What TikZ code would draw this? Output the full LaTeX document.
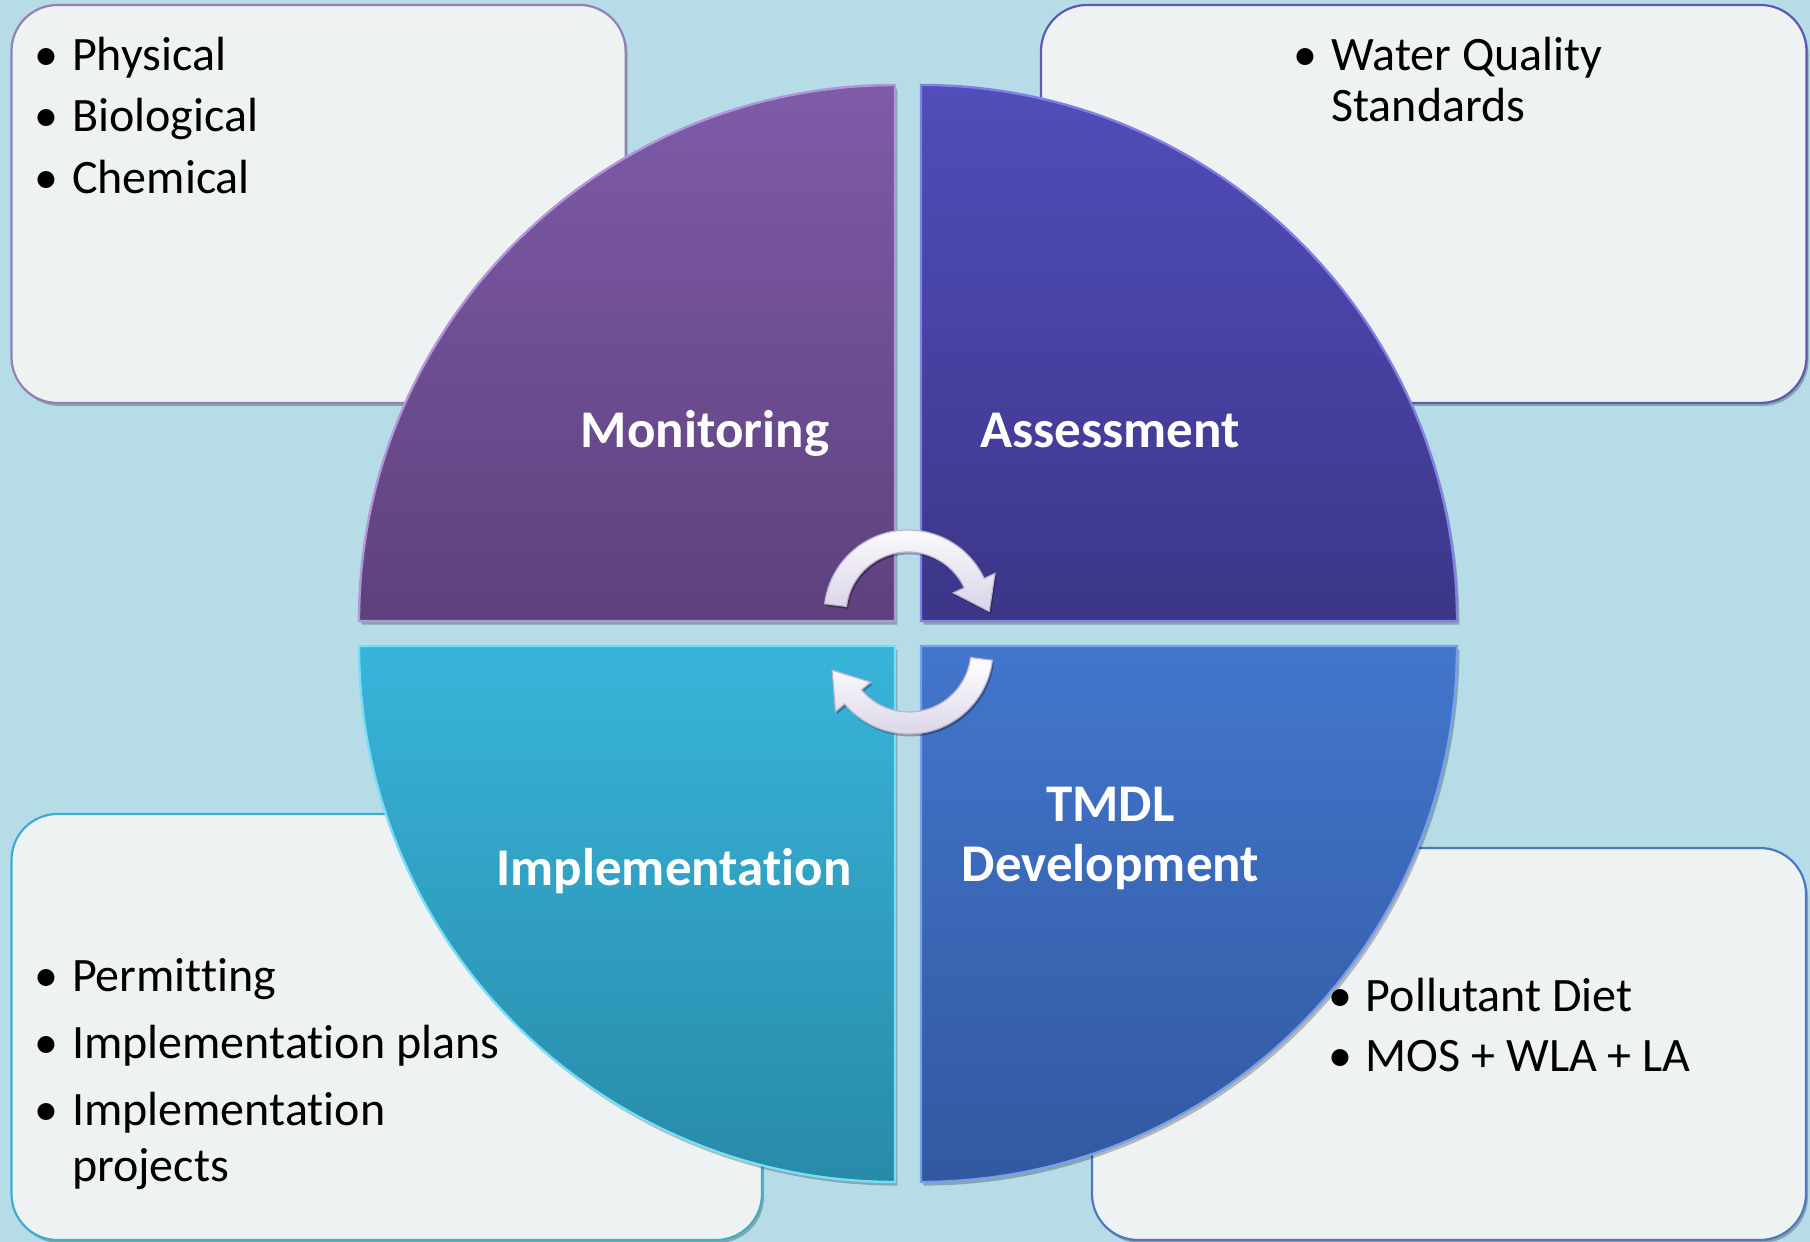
\documentclass[tikz,border=0pt]{standalone}
\usepackage{fontspec}
\setmainfont{Carlito}[Ligatures=NoCommon]
\usetikzlibrary{calc,shadows}
\definecolor{bgc}{RGB}{182,221,231}
\definecolor{boxfill}{RGB}{239,242,243}
\definecolor{tlE}{RGB}{146,128,182}
\definecolor{trE}{RGB}{92,90,182}
\definecolor{blE}{RGB}{64,172,206}
\definecolor{brE}{RGB}{76,120,196}
\definecolor{monT}{RGB}{127,91,168}
\definecolor{monB}{RGB}{93,65,125}
\definecolor{monE}{RGB}{178,150,220}
\definecolor{assT}{RGB}{81,77,186}
\definecolor{assB}{RGB}{60,54,136}
\definecolor{assE}{RGB}{130,128,226}
\definecolor{impT}{RGB}{56,180,218}
\definecolor{impB}{RGB}{40,138,168}
\definecolor{impE}{RGB}{120,222,246}
\definecolor{tmdT}{RGB}{66,118,204}
\definecolor{tmdB}{RGB}{50,88,160}
\definecolor{tmdE}{RGB}{120,160,232}
\definecolor{arrB}{RGB}{218,212,232}
\definecolor{arrE}{RGB}{186,178,206}
\begin{document}
\begin{tikzpicture}[x=0.5pt,y=0.5pt,
  box/.style={fill=boxfill, line width=1.1pt, rounded corners=23pt,
    drop shadow={shadow xshift=1pt,shadow yshift=-1.5pt,opacity=0.25,fill=black}},
  quad/.style={line width=1.2pt,
    drop shadow={shadow xshift=1.2pt,shadow yshift=-1.8pt,opacity=0.25,fill=black}},
  lbl/.style={text=white, font=\bfseries\fontsize{26.5}{31}\selectfont, inner sep=0, anchor=base},
  itm/.style={font=\fontsize{24}{29}\selectfont, inner sep=0, anchor=base west},
  bul/.style={font=\fontsize{24}{29}\selectfont, inner sep=0, anchor=base},
  arr/.style={top color=white, bottom color=arrB, draw=arrE, line width=0.6pt,
    drop shadow={shadow xshift=0.8pt,shadow yshift=-1.2pt,opacity=0.3,fill=black}}
]
\useasboundingbox (0,0) rectangle (1810,1242);
\fill[bgc] (0,0) rectangle (1810,1242);

% text boxes
\draw[box, draw=tlE] (11.5,839) rectangle (625.6,1237);
\draw[box, draw=trE] (1041,839) rectangle (1806.5,1237);
\draw[box, draw=blE] (11.5,2) rectangle (762,428);
\draw[box, draw=brE] (1092,2) rectangle (1806,394);

% quadrants
\shadedraw[quad, top color=monT, bottom color=monB, draw=monE]
  (895,621) -- (359,621) arc[start angle=180,end angle=90,radius=536] -- cycle;
\shadedraw[quad, top color=assT, bottom color=assB, draw=assE]
  (921,621) -- (921,1157) arc[start angle=90,end angle=0,radius=536] -- cycle;
\shadedraw[quad, top color=impT, bottom color=impB, draw=impE]
  (895,596) -- (895,60) arc[start angle=270,end angle=180,radius=536] -- cycle;
\shadedraw[quad, top color=tmdT, bottom color=tmdB, draw=tmdE]
  (921,596) -- (1457,596) arc[start angle=0,end angle=-90,radius=536] -- cycle;

% cycle arrows
\coordinate (c1) at (908,628);
\coordinate (t1) at ($(c1)+(25:73)+(-62:32)$);
\shadedraw[arr] ($(c1)+(173:62)$) arc[start angle=173,end angle=25,radius=62]
  -- ($(c1)+(25:50)$) -- (t1) -- ($(c1)+(25:96)$) -- ($(c1)+(25:84)$)
  arc[start angle=25,end angle=173,radius=84] -- cycle;
\coordinate (c2) at (909,592);
\coordinate (t2) at ($(c2)+(-140:73)+(128:34)$);
\shadedraw[arr] ($(c2)+(-7:84)$) arc[start angle=-7,end angle=-140,radius=84]
  -- ($(c2)+(-140:96)$) -- (t2) -- ($(c2)+(-140:50)$) -- ($(c2)+(-140:62)$)
  arc[start angle=-140,end angle=-7,radius=62] -- cycle;

% quadrant labels
\node[lbl] (mon) at (705,794) {Monitoring};
\node[lbl] (ass) at (1110,794) {Assessment};
\node[lbl] (imp) at (674,356) {Implementation};
\node[lbl] (tmdl) at (1110.5,420) {TMDL};
\node[lbl] (dev) at (1110.5,360) {Development};

% top-left bullets
\node[bul] (b1) at (46,1171) {\textbullet};
\node[itm] (i1) at (71.6,1171) {Physical};
\node[bul] (b2) at (46,1110) {\textbullet};
\node[itm] (i2) at (71.6,1110) {Biological};
\node[bul] (b3) at (46,1048.5) {\textbullet};
\node[itm] (i3) at (71.6,1048.5) {Chemical};

% top-right bullets
\node[bul] (b4) at (1305.5,1171) {\textbullet};
\node[itm] (i4) at (1331,1171) {Water Quality};
\node[itm] (i4b) at (1331,1120.5) {Standards};

% bottom-left bullets
\node[bul] (b5) at (46,250.5) {\textbullet};
\node[itm] (i5) at (71.6,250.5) {Permitting};
\node[bul] (b6) at (46,183.5) {\textbullet};
\node[itm] (i6) at (71.6,183.5) {Implementation plans};
\node[bul] (b7) at (46,116.5) {\textbullet};
\node[itm] (i7) at (71.6,116.5) {Implementation};
\node[itm] (i7b) at (71.6,60) {projects};

% bottom-right bullets
\node[bul] (b8) at (1340,230.5) {\textbullet};
\node[itm] (i8) at (1365.5,230.5) {Pollutant Diet};
\node[bul] (b9) at (1340,170) {\textbullet};
\node[itm] (i9) at (1365.5,170) {MOS + WLA + LA};
\end{tikzpicture}
\end{document}
